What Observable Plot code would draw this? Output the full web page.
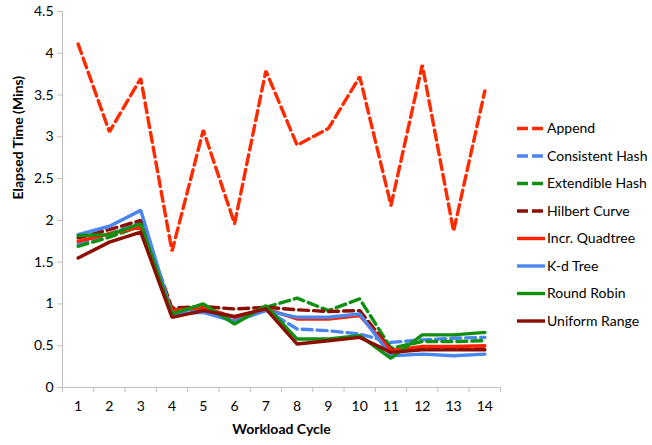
<!DOCTYPE html>
<html>
<head>
<meta charset="utf-8">
<script src="https://cdn.jsdelivr.net/npm/d3@7"></script>
<script src="https://cdn.jsdelivr.net/npm/@observablehq/plot@0.6"></script>
<style>
  body { margin: 0; background: #fff; }
  #chart { position: relative; width: 652px; height: 445px; }
</style>
</head>
<body>
<div id="chart"></div>
<script>
const cycles = [1, 2, 3, 4, 5, 6, 7, 8, 9, 10, 11, 12, 13, 14];
const yTicks = [0, 0.5, 1, 1.5, 2, 2.5, 3, 3.5, 4, 4.5];
const xBoundaries = [0.5, 1.5, 2.5, 3.5, 4.5, 5.5, 6.5, 7.5, 8.5, 9.5, 10.5, 11.5, 12.5, 13.5, 14.5];

const seriesNames = ["Append", "Consistent Hash", "Extendible Hash", "Hilbert Curve",
  "Incr. Quadtree", "K-d Tree", "Round Robin", "Uniform Range"];
const seriesColors = ["#ff2a00", "#4a86f0", "#109010", "#8b0e00",
  "#ff2200", "#4a86f0", "#109010", "#8b0e00"];
const seriesDashed = [true, true, true, true, false, false, false, false];

const append         = [4.11, 3.06, 3.70, 1.63, 3.08, 1.96, 3.79, 2.90, 3.10, 3.72, 2.18, 3.86, 1.87, 3.55];
const consistentHash = [1.72, 1.84, 1.97, 0.90, 0.93, 0.80, 0.93, 0.70, 0.68, 0.64, 0.54, 0.57, 0.59, 0.60];
const extendibleHash = [1.69, 1.80, 1.93, 0.93, 0.95, 0.78, 0.96, 1.07, 0.92, 1.06, 0.47, 0.55, 0.55, 0.56];
const hilbertCurve   = [1.79, 1.89, 2.00, 0.95, 0.97, 0.94, 0.96, 0.93, 0.91, 0.92, 0.45, 0.46, 0.46, 0.46];
const incrQuadtree   = [1.75, 1.84, 1.92, 0.92, 0.96, 0.84, 0.94, 0.82, 0.82, 0.86, 0.44, 0.49, 0.49, 0.50];
const kdTree         = [1.83, 1.93, 2.12, 0.88, 0.90, 0.79, 0.92, 0.84, 0.84, 0.88, 0.38, 0.40, 0.38, 0.40];
const roundRobin     = [1.82, 1.83, 1.96, 0.88, 1.00, 0.76, 0.98, 0.58, 0.58, 0.62, 0.35, 0.63, 0.63, 0.66];
const uniformRange   = [1.55, 1.74, 1.86, 0.84, 0.92, 0.85, 0.94, 0.52, 0.56, 0.60, 0.42, 0.45, 0.45, 0.45];

const seriesValues = [append, consistentHash, extendibleHash, hilbertCurve,
  incrQuadtree, kdTree, roundRobin, uniformRange];

const series = seriesNames.map((name, i) => ({
  name, color: seriesColors[i], dashed: seriesDashed[i],
  data: cycles.map((c, j) => ({cycle: c, value: seriesValues[i][j]}))
}));

const font = "Lato, 'Open Sans', sans-serif";
const axisColor = "#bfbfbf";

const plot = Plot.plot({
  width: 652,
  height: 445,
  marginLeft: 62,
  marginRight: 152,
  marginTop: 11,
  marginBottom: 58,
  style: {fontFamily: font, fontSize: "14px", color: "#000", background: "#fff"},
  x: {domain: [0.5, 14.5]},
  y: {domain: [0, 4.5]},
  marks: [
    Plot.axisY({ticks: yTicks, tickSize: 5, tickPadding: 4, stroke: axisColor, fill: "#000",
      tickFormat: d => String(d), label: null, fontSize: 14}),
    Plot.axisX({ticks: xBoundaries, tickSize: 5, tickFormat: () => "", stroke: axisColor, label: null}),
    Plot.axisX({ticks: cycles, tickSize: 0, tickPadding: 14, fill: "#000", label: null, fontSize: 14}),
    Plot.ruleY([0], {stroke: axisColor, strokeWidth: 1}),
    Plot.ruleX([0.5], {stroke: axisColor, strokeWidth: 1}),
    ...series.map(s => Plot.line(s.data, {
      x: "cycle", y: "value", stroke: s.color, strokeWidth: 3.4,
      strokeDasharray: s.dashed ? "10,5" : null, strokeLinejoin: "miter"
    })),
    Plot.text(["Workload Cycle"], {frameAnchor: "bottom", dy: 46, text: d => d,
      fontWeight: "bold", fontSize: 14, fill: "#000"}),
    Plot.text(["Elapsed Time (Mins)"], {frameAnchor: "left", dx: -44, rotate: -90, text: d => d,
      fontWeight: "bold", fontSize: 14, fill: "#000"})
  ]
});

document.getElementById("chart").appendChild(plot);

// Legend drawn inside the SVG
const svg = d3.select(plot);
const legend = svg.append("g")
  .attr("font-family", font)
  .attr("font-size", 14)
  .attr("text-anchor", "start");
const legendX = 517, legendY0 = 128.5, legendStep = 27.5;
series.forEach((s, i) => {
  const y = legendY0 + i * legendStep;
  legend.append("line")
    .attr("x1", legendX).attr("x2", legendX + 28)
    .attr("y1", y).attr("y2", y)
    .attr("stroke", s.color).attr("stroke-width", 3.4)
    .attr("stroke-dasharray", s.dashed ? "11,4" : null);
  legend.append("text")
    .attr("x", legendX + 30).attr("y", y)
    .attr("dy", "0.35em")
    .attr("text-anchor", "start")
    .attr("fill", "#000")
    .text(s.name);
});
</script>
</body>
</html>
